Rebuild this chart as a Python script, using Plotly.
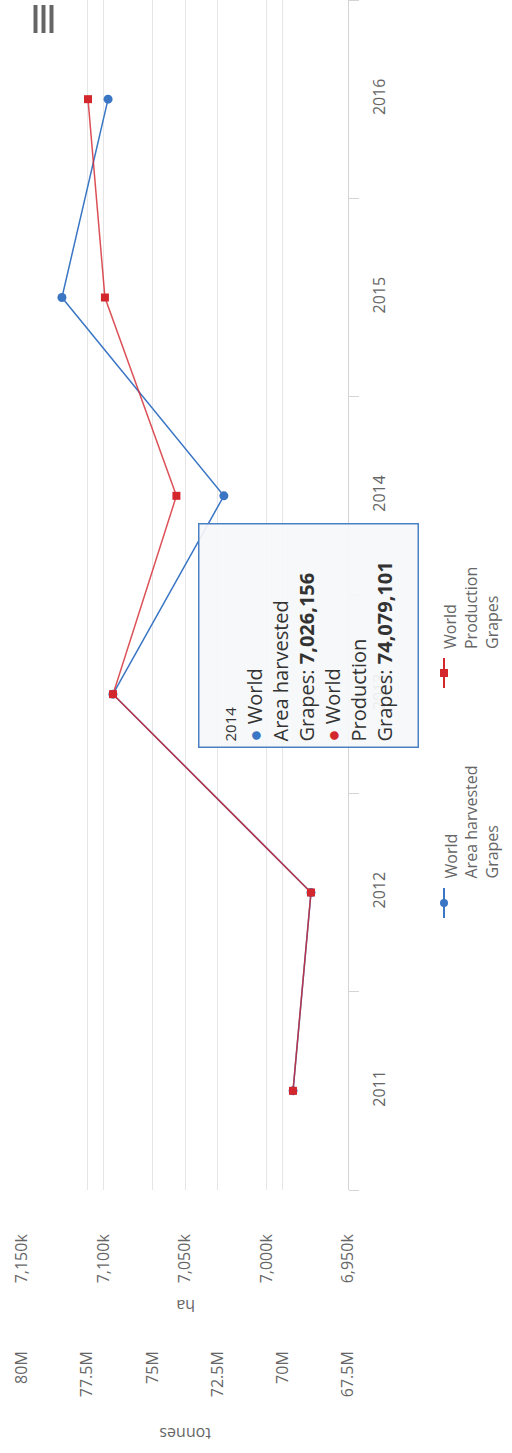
import plotly.graph_objects as go

# ---- data -------------------------------------------------------------
YEARS = ["2011", "2012", "2013", "2014", "2015", "2016"]
AREA_HA = [6983700, 6972700, 7094200, 7026156, 7125500, 7097200]
PRODUCTION_T = [69610000, 68920000, 76510000, 74079101, 76820000, 77470000]

SERIES_NAMES = ["World<br>Area harvested<br>Grapes", "World<br>Production<br>Grapes"]
TOOLTIP_NAMES = ["World<br>Area harvested", "World<br>Production"]
TOOLTIP_ITEM = "Grapes"
HOVER_YEAR = "2014"

HA_TICKS = [6950000, 7000000, 7050000, 7100000, 7150000]
HA_TICK_TEXT = ["6,950k", "7,000k", "7,050k", "7,100k", "7,150k"]
T_TICKS = [67500000, 70000000, 72500000, 75000000, 77500000, 80000000]
T_TICK_TEXT = ["67.5M", "70M", "72.5M", "75M", "77.5M", "80M"]

# ---- style ------------------------------------------------------------
BLUE = "#3a76c4"
RED = "#d3262d"
GRID = "#e6e6e6"
AXIS = "#d4d4d4"
LABEL = "#666666"
FONT = "Open Sans"

W, H = 512, 1453
PL, PR, PT, PB = 22, 348, 0, 1190   # plot area in pixels


def fx(px):
    return (px - PL) / (PR - PL)


def fy(py):
    return (PB - py) / (PB - PT)


fig = go.Figure()

fig.add_trace(go.Scatter(
    x=AREA_HA, y=YEARS, xaxis="x", yaxis="y",
    name=SERIES_NAMES[0], mode="lines+markers",
    line=dict(color=BLUE, width=1.5),
    marker=dict(symbol="circle", size=9, color=BLUE),
    showlegend=False,
))
fig.add_trace(go.Scatter(
    x=PRODUCTION_T, y=YEARS, xaxis="x2", yaxis="y",
    name=SERIES_NAMES[1], mode="lines+markers",
    line=dict(color="rgba(211,38,45,0.8)", width=1.5),
    marker=dict(symbol="square", size=8, color=RED),
    showlegend=False,
))

tick_font = dict(family=FONT, size=16, color=LABEL)

fig.update_layout(
    width=W, height=H,
    margin=dict(l=PL, r=W - PR, t=PT, b=H - PB, pad=0),
    paper_bgcolor="white", plot_bgcolor="white",
    font=dict(family=FONT, color="#333333"),
    showlegend=False,
    xaxis=dict(
        range=[HA_TICKS[-1], HA_TICKS[0]],
        tickvals=HA_TICKS, ticktext=HA_TICK_TEXT,
        tickangle=-90, tickfont=tick_font,
        showgrid=True, gridcolor=GRID, gridwidth=1,
        zeroline=False, showline=False, ticks="",
        ticklabelstandoff=40,
    ),
    xaxis2=dict(
        overlaying="x", side="bottom", anchor="y",
        range=[T_TICKS[-1], T_TICKS[0]],
        tickvals=T_TICKS, ticktext=T_TICK_TEXT,
        tickangle=-90, tickfont=tick_font,
        showgrid=True, gridcolor=GRID, gridwidth=1,
        zeroline=False, showline=False, ticks="",
        ticklabelstandoff=157,
    ),
    yaxis=dict(
        type="category", categoryarray=YEARS,
        range=[-0.5, len(YEARS) - 0.5],
        side="right", showline=True, linecolor=AXIS, linewidth=1,
        ticks="outside", ticklen=10, tickcolor=AXIS, tickson="boundaries",
        tickangle=-90, tickfont=tick_font,
        showgrid=False, zeroline=False,
        ticklabelstandoff=17,
    ),
)

annotations = []

# axis titles
annotations.append(dict(
    text="ha", x=fx(186), y=fy(1306), xref="paper", yref="paper",
    xanchor="center", yanchor="middle",
    showarrow=False, textangle=180, font=dict(family=FONT, size=16, color=LABEL),
))
annotations.append(dict(
    text="tonnes", x=fx(185), y=fy(1434), xref="paper", yref="paper",
    xanchor="center", yanchor="middle",
    showarrow=False, textangle=180, font=dict(family=FONT, size=16, color=LABEL),
))

# shared tooltip for the hovered year
i = YEARS.index(HOVER_YEAR)
tip = (
    f"<span style='font-size:15px'>{HOVER_YEAR}</span><br>"
    f"<span style='color:{BLUE}'>●</span> {TOOLTIP_NAMES[0]}<br>"
    f"{TOOLTIP_ITEM}: <b>{AREA_HA[i]:,}</b><br>"
    f"<span style='color:{RED}'>●</span> {TOOLTIP_NAMES[1]}<br>"
    f"{TOOLTIP_ITEM}: <b>{PRODUCTION_T[i]:,}</b>"
)
annotations.append(dict(
    text=tip, x=fx(308.5), y=fy(635.5), xref="paper", yref="paper",
    xanchor="center", yanchor="middle", showarrow=False,
    textangle=-90, align="left", valign="middle",
    width=212, height=208,
    bgcolor="rgba(246,247,248,0.92)", bordercolor="#4a80c4", borderwidth=1.5,
    borderpad=5,
    font=dict(family=FONT, size=20, color="#333333"),
))

# legend (vertical layout)
legend_items = [(SERIES_NAMES[0], BLUE, "circle", 903),
                (SERIES_NAMES[1], RED, "square", 673)]
shapes = []
for name, color, sym, sy in legend_items:
    annotations.append(dict(
        text=name, x=fx(437), y=fy(sy - 22), xref="paper", yref="paper",
        xanchor="left", yanchor="bottom", showarrow=False,
        textangle=-90, align="left",
        font=dict(family=FONT, size=16, color=LABEL),
    ))
    shapes.append(dict(type="line", xref="paper", yref="paper",
                       x0=fx(444), x1=fx(444), y0=fy(sy - 15), y1=fy(sy + 15),
                       line=dict(color=color, width=2)))
    if sym == "circle":
        shapes.append(dict(type="circle", xref="paper", yref="paper",
                           x0=fx(440), x1=fx(448), y0=fy(sy - 4), y1=fy(sy + 4),
                           fillcolor=color, line=dict(width=0)))
    else:
        shapes.append(dict(type="rect", xref="paper", yref="paper",
                           x0=fx(440), x1=fx(448), y0=fy(sy - 4), y1=fy(sy + 4),
                           fillcolor=color, line=dict(width=0)))

# export menu glyph
for bx in (35.5, 43.5, 51.5):
    shapes.append(dict(type="line", xref="paper", yref="paper",
                       x0=fx(bx), x1=fx(bx), y0=fy(5), y1=fy(33),
                       line=dict(color="#666666", width=4)))

fig.update_layout(annotations=annotations, shapes=shapes)

fig.write_html("out.html")
